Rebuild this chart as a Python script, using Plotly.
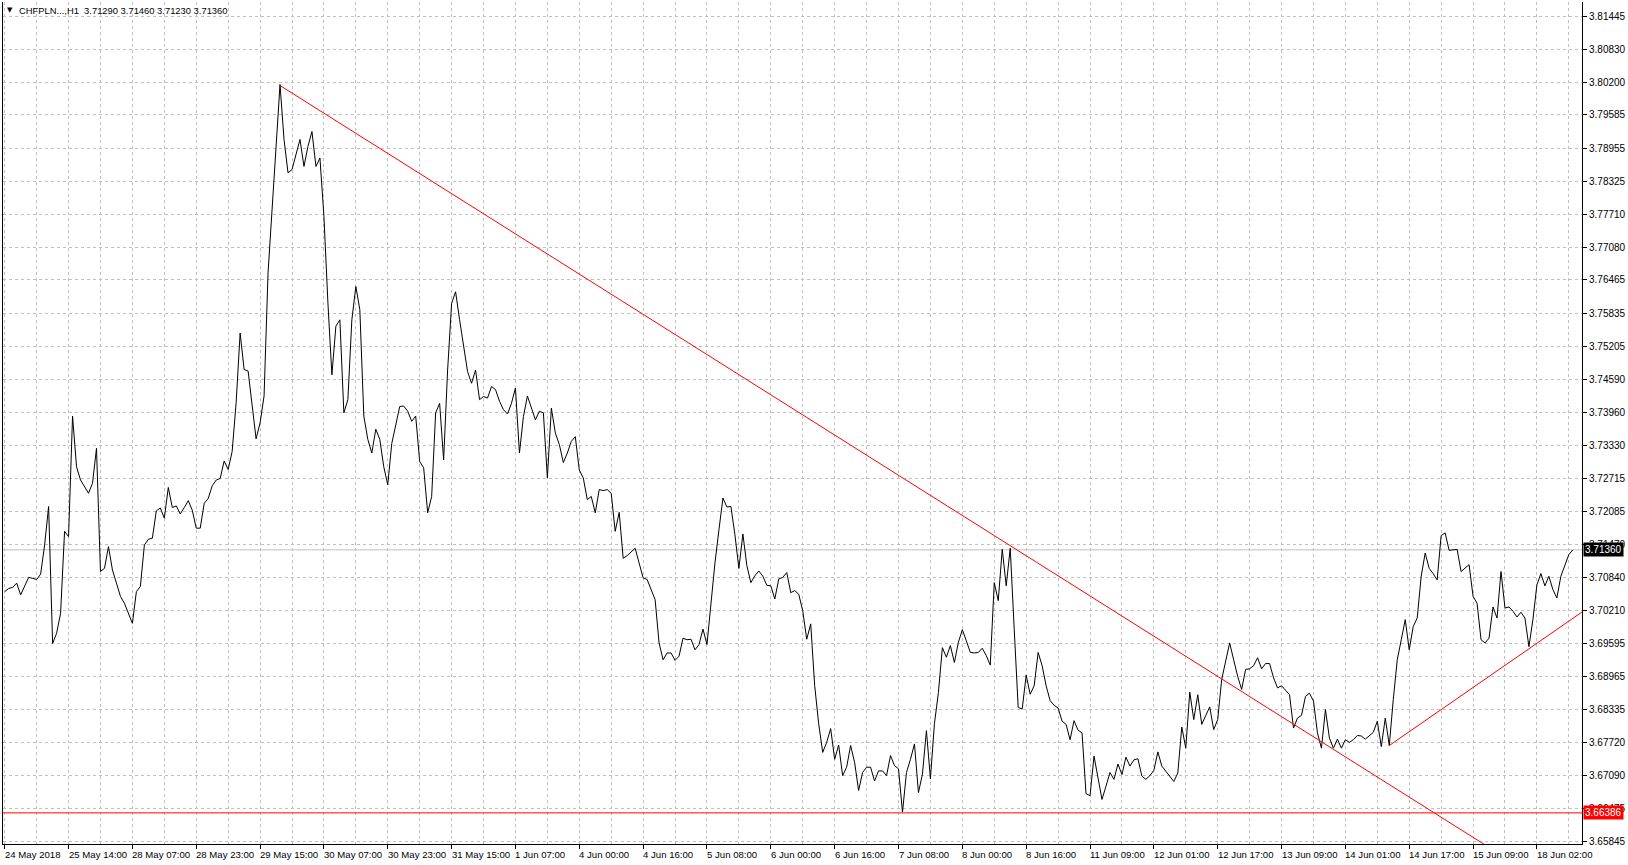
import plotly.graph_objects as go

# H1 closes, one per bar (24 May 22:00 .. 18 Jun 11:00)
close_1 = [3.7057, 3.7063, 3.7065, 3.7073, 3.7051, 3.7067, 3.7084, 3.7082, 3.7080, 3.7090,
           3.7145, 3.7218, 3.6959, 3.6978, 3.7016, 3.7171, 3.7161, 3.7389, 3.7293, 3.7268,
           3.7256, 3.7243, 3.7262, 3.7328, 3.7095, 3.7101, 3.7142, 3.7098, 3.7073, 3.7048,
           3.7035, 3.7016, 3.6997, 3.7057, 3.7067, 3.7145, 3.7156, 3.7158, 3.7210, 3.7215,
           3.7196, 3.7254, 3.7216, 3.7219, 3.7204, 3.7216, 3.7229, 3.7211, 3.7177, 3.7177]
close_2 = [3.7224, 3.7233, 3.7257, 3.7268, 3.7271, 3.7304, 3.7288, 3.7322, 3.7414, 3.7546,
           3.7477, 3.7474, 3.7408, 3.7346, 3.7376, 3.7427, 3.7660, 3.7786, 3.7912, 3.8016,
           3.7912, 3.7849, 3.7855, 3.7886, 3.7912, 3.7861, 3.7899, 3.7927, 3.7861, 3.7877,
           3.7767, 3.7603, 3.7467, 3.7559, 3.7571, 3.7395, 3.7420, 3.7571, 3.7634, 3.7590,
           3.7389, 3.7345, 3.7319, 3.7364, 3.7345, 3.7293, 3.7259, 3.7337, 3.7372, 3.7407]
close_3 = [3.7408, 3.7398, 3.7379, 3.7389, 3.7303, 3.7291, 3.7206, 3.7237, 3.7395, 3.7413,
           3.7306, 3.7476, 3.7602, 3.7624, 3.7571, 3.7524, 3.7473, 3.7451, 3.7476, 3.7420,
           3.7426, 3.7423, 3.7445, 3.7439, 3.7417, 3.7401, 3.7393, 3.7413, 3.7442, 3.7319,
           3.7388, 3.7427, 3.7404, 3.7382, 3.7398, 3.7395, 3.7272, 3.7404, 3.7357, 3.7335,
           3.7301, 3.7319, 3.7341, 3.7350, 3.7287, 3.7272, 3.7231, 3.7237, 3.7206, 3.7250]
close_4 = [3.7248, 3.7250, 3.7243, 3.7171, 3.7207, 3.7120, 3.7125, 3.7133, 3.7139, 3.7111,
           3.7083, 3.7080, 3.7061, 3.7042, 3.6960, 3.6928, 3.6941, 3.6941, 3.6927, 3.6935,
           3.6969, 3.6966, 3.6967, 3.6947, 3.6957, 3.6986, 3.6957, 3.7042, 3.7111, 3.7174,
           3.7234, 3.7217, 3.7218, 3.7165, 3.7101, 3.7166, 3.7106, 3.7074, 3.7087, 3.7096,
           3.7086, 3.7069, 3.7068, 3.7043, 3.7081, 3.7084, 3.7093, 3.7055, 3.7059, 3.7052]
close_5 = [3.7021, 3.6967, 3.6996, 3.6879, 3.6807, 3.6753, 3.6772, 3.6798, 3.6740, 3.6767,
           3.6709, 3.6725, 3.6766, 3.6734, 3.6681, 3.6715, 3.6725, 3.6725, 3.6699, 3.6718,
           3.6718, 3.6709, 3.6747, 3.6728, 3.6722, 3.6640, 3.6715, 3.6740, 3.6769, 3.6677,
           3.6712, 3.6794, 3.6703, 3.6807, 3.6866, 3.6951, 3.6933, 3.6955, 3.6923, 3.6961,
           3.6985, 3.6964, 3.6942, 3.6941, 3.6942, 3.6950, 3.6936, 3.6918, 3.7074, 3.7040]
close_6 = [3.7137, 3.7068, 3.7139, 3.6986, 3.6838, 3.6835, 3.6899, 3.6863, 3.6879, 3.6942,
           3.6917, 3.6879, 3.6851, 3.6842, 3.6837, 3.6812, 3.6806, 3.6777, 3.6813, 3.6795,
           3.6790, 3.6675, 3.6671, 3.6746, 3.6708, 3.6664, 3.6689, 3.6715, 3.6702, 3.6731,
           3.6711, 3.6744, 3.6727, 3.6739, 3.6741, 3.6708, 3.6702, 3.6709, 3.6719, 3.6754,
           3.6727, 3.6717, 3.6709, 3.6698, 3.6714, 3.6801, 3.6761, 3.6867, 3.6815, 3.6862]
close_7 = [3.6806, 3.6823, 3.6839, 3.6796, 3.6815, 3.6891, 3.6928, 3.6960, 3.6928, 3.6897,
           3.6872, 3.6910, 3.6911, 3.6917, 3.6932, 3.6911, 3.6921, 3.6921, 3.6894, 3.6875,
           3.6879, 3.6870, 3.6862, 3.6799, 3.6818, 3.6823, 3.6859, 3.6865, 3.6850, 3.6790,
           3.6761, 3.6834, 3.6780, 3.6761, 3.6778, 3.6761, 3.6777, 3.6772, 3.6777, 3.6785,
           3.6784, 3.6778, 3.6785, 3.6791, 3.6812, 3.6764, 3.6818, 3.6766, 3.6853, 3.6928]
close_8 = [3.6966, 3.7004, 3.6947, 3.6991, 3.7007, 3.7086, 3.7130, 3.7101, 3.7091, 3.7079,
           3.7163, 3.7168, 3.7135, 3.7136, 3.7137, 3.7095, 3.7101, 3.7108, 3.7048, 3.7035,
           3.6966, 3.6960, 3.6969, 3.7028, 3.7007, 3.7095, 3.7026, 3.7028, 3.7020, 3.7009,
           3.7018, 3.7007, 3.6953, 3.7004, 3.7070, 3.7091, 3.7068, 3.7086, 3.7061, 3.7045,
           3.7086, 3.7108, 3.7127, 3.7136]

time_labels = ["24 May 2018", "25 May 14:00", "28 May 07:00", "28 May 23:00", "29 May 15:00",
               "30 May 07:00", "30 May 23:00", "31 May 15:00", "1 Jun 07:00", "4 Jun 00:00",
               "4 Jun 16:00", "5 Jun 08:00", "6 Jun 00:00", "6 Jun 16:00", "7 Jun 08:00",
               "8 Jun 00:00", "8 Jun 16:00", "11 Jun 09:00", "12 Jun 01:00", "12 Jun 17:00",
               "13 Jun 09:00", "14 Jun 01:00", "14 Jun 17:00", "15 Jun 09:00", "18 Jun 02:00"]
bars_per_label = 16

price_labels = ["3.81445", "3.80830", "3.80200", "3.79585", "3.78955", "3.78325", "3.77710",
                "3.77080", "3.76465", "3.75835", "3.75205", "3.74590", "3.73960", "3.73330",
                "3.72715", "3.72085", "3.71470", "3.70840", "3.70210", "3.69595", "3.68965",
                "3.68335", "3.67720", "3.67090", "3.66475", "3.65845"]

# trend lines (bar index, price)
trend_down_bars = [69, 395]
trend_down_prices = [3.8014, 3.6464]
trend_up_bars = [347, 400]
trend_up_prices = [3.6766, 3.7043]

last_price = 3.71360
low_level = 3.66386
header = "CHFPLN...,H1  3.71290 3.71460 3.71230 3.71360"

FONT = "Liberation Sans"
GRID = "#c0c0c0"
DASH = "3px,3px"

closes = close_1 + close_2 + close_3 + close_4 + close_5 + close_6 + close_7 + close_8
bars = list(range(len(closes)))
label_bars = [i * bars_per_label for i in range(len(time_labels))]
half_bars = [b + bars_per_label // 2 for b in label_bars]

fig = go.Figure()

fig.add_hline(y=last_price, line=dict(color=GRID, width=1), layer="below")
fig.add_hline(y=low_level, line=dict(color="#ff0000", width=1))

fig.add_trace(go.Scatter(
    x=bars, y=closes, mode="lines",
    line=dict(color="black", width=1), hoverinfo="skip",
))
fig.add_trace(go.Scatter(
    x=trend_down_bars, y=trend_down_prices, mode="lines",
    line=dict(color="#ff0000", width=1), hoverinfo="skip",
))
fig.add_trace(go.Scatter(
    x=trend_up_bars, y=trend_up_prices, mode="lines",
    line=dict(color="#ff0000", width=1), hoverinfo="skip",
))

annotations = []
for b, txt in zip(label_bars, time_labels):
    annotations.append(dict(
        x=b, y=0, xref="x", yref="paper", text=txt, showarrow=False,
        xanchor="left", yanchor="top", xshift=-2, yshift=-3,
        font=dict(family=FONT, size=9.6, color="black"),
    ))

annotations += [
    dict(x=0, y=1, xref="paper", yref="paper", text="▼", showarrow=False,
         xanchor="left", yanchor="top", xshift=2, yshift=-2,
         font=dict(family="DejaVu Sans", size=7, color="black")),
    dict(x=0, y=1, xref="paper", yref="paper", text=header, showarrow=False,
         xanchor="left", yanchor="top", xshift=14, yshift=-1,
         font=dict(family=FONT, size=9.4, color="black")),
    dict(x=1, y=last_price, xref="paper", yref="y", text=f"{last_price:.5f}",
         showarrow=False, xanchor="left", yanchor="middle", xshift=1,
         bgcolor="black", borderpad=1,
         font=dict(family=FONT, size=10, color="white")),
    dict(x=1, y=low_level, xref="paper", yref="y", text=f"{low_level:.5f}",
         showarrow=False, xanchor="left", yanchor="middle", xshift=1,
         bgcolor="#ff0000", borderpad=1,
         font=dict(family=FONT, size=10, color="white")),
]

fig.update_layout(
    width=1628, height=865,
    margin=dict(l=2, r=43, t=2, b=21, pad=0),
    paper_bgcolor="white", plot_bgcolor="white",
    showlegend=False, hovermode=False,
    annotations=annotations,
    xaxis=dict(
        range=[-0.43, 395.3], tickmode="array", tickvals=label_bars,
        showticklabels=False, ticks="outside", ticklen=4, tickcolor="black",
        showgrid=True, gridcolor=GRID, griddash=DASH, gridwidth=1,
        minor=dict(tickvals=half_bars, showgrid=True, gridcolor=GRID,
                   griddash=DASH, ticks=""),
        showline=True, linecolor="black", linewidth=1, zeroline=False,
    ),
    yaxis=dict(
        side="right", range=[3.657978, 3.817192], tickmode="array",
        tickvals=[float(p) for p in price_labels], ticktext=price_labels,
        ticks="outside", ticklen=4, tickcolor="black",
        tickfont=dict(family=FONT, size=10, color="black"),
        showgrid=True, gridcolor=GRID, griddash=DASH, gridwidth=1,
        showline=True, mirror=True, linecolor="black", linewidth=1, zeroline=False,
    ),
)

# page body has a default 8px margin; drop it so the chart fills the window
fig.write_html(
    "out.html",
    config={"displayModeBar": False},
    post_script="document.body.style.margin='0';",
)
